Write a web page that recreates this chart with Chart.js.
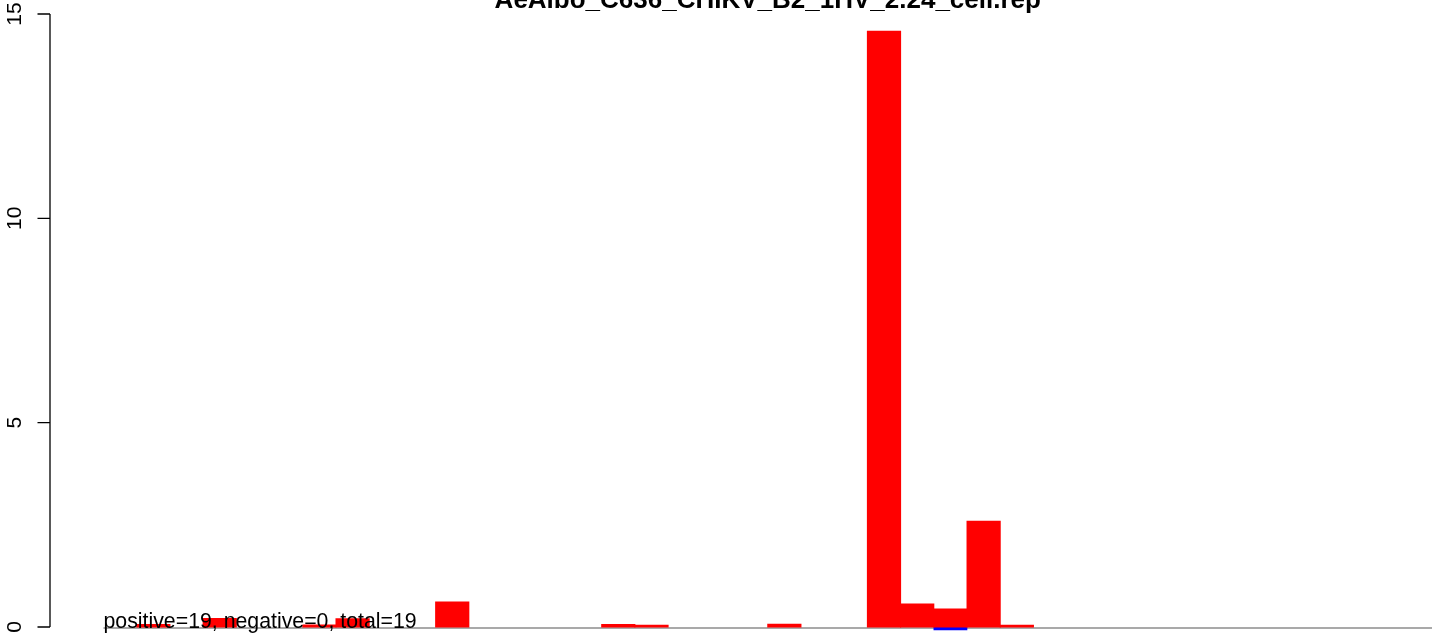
<!DOCTYPE html>
<html>
<head>
<meta charset="utf-8">
<title>AeAlbo_C636_CHIKV_B2_1HV_2.24_cell.rep</title>
<script src="https://cdn.jsdelivr.net/npm/chart.js@4/dist/chart.umd.min.js"></script>
<style>
	html, body { margin: 0; padding: 0; background: #fff; }
	#chart { display: block; }
</style>
</head>
<body>
<canvas id="chart" width="1444" height="634"></canvas>
<script>
// Chart text
const chartTitle = 'AeAlbo_C636_CHIKV_B2_1HV_2.24_cell.rep';
const summaryText = 'positive=19, negative=0, total=19';

// One slot per bar, no names on the x axis
const slots = ['1', '2', '3', '4', '5', '6', '7', '8', '9', '10',
	'11', '12', '13', '14', '15', '16', '17', '18', '19', '20',
	'21', '22', '23', '24', '25', '26', '27', '28', '29', '30',
	'31', '32', '33', '34', '35', '36', '37', '38', '39', '40'];

// Values
const positiveValues = [0, 0.06, 0, 0.21, 0, 0, 0.05, 0.2, 0, 0,
	0.61, 0, 0, 0, 0, 0.06, 0.04, 0, 0, 0,
	0.07, 0, 0, 14.58, 0.56, 0.44, 2.59, 0.04, 0, 0,
	0, 0, 0, 0, 0, 0, 0, 0, 0, 0];
const negativeValues = [0, 0, 0, 0, 0, 0, 0, 0, 0, 0,
	0, 0, 0, 0, 0, 0, 0, 0, 0, 0,
	0, 0, 0, 0, 0, -0.07, 0, 0, 0, 0,
	0, 0, 0, 0, 0, 0, 0, 0, 0, 0];

// Y axis ticks
const yTicks = [0, 5, 10, 15];

const font = '"Liberation Sans", Arial, Helvetica, sans-serif';

// empty slots draw nothing
const noZero = (values) => values.map((v) => (v === 0 ? null : v));

// Draws the R style parts: zero line, then title, left axis and the note
const rStyle = {
	id: 'rStyle',
	beforeDatasetsDraw(chart) {
		const ctx = chart.ctx;
		const y = chart.scales.y;
		const area = chart.chartArea;
		ctx.save();
		ctx.strokeStyle = '#8c8c8c';
		ctx.lineWidth = 1.5;
		ctx.beginPath();
		ctx.moveTo(area.left, y.getPixelForValue(0) + 1);
		ctx.lineTo(area.right, y.getPixelForValue(0) + 1);
		ctx.stroke();
		ctx.restore();
	},
	afterDatasetsDraw(chart) {
		const ctx = chart.ctx;
		const y = chart.scales.y;
		const area = chart.chartArea;
		ctx.save();

		// left axis
		const axisX = 50;
		ctx.strokeStyle = '#000';
		ctx.lineWidth = 1.3;
		ctx.beginPath();
		ctx.moveTo(axisX, y.getPixelForValue(yTicks[0]));
		ctx.lineTo(axisX, y.getPixelForValue(yTicks[yTicks.length - 1]));
		yTicks.forEach((t) => {
			const py = y.getPixelForValue(t);
			ctx.moveTo(axisX, py);
			ctx.lineTo(axisX - 12.5, py);
		});
		ctx.stroke();

		ctx.fillStyle = '#000';
		ctx.font = '21px ' + font;
		ctx.textAlign = 'center';
		ctx.textBaseline = 'alphabetic';
		yTicks.forEach((t) => {
			const py = y.getPixelForValue(t);
			ctx.save();
			ctx.translate(21, py);
			ctx.rotate(-Math.PI / 2);
			ctx.fillText(String(t), 0, 0);
			ctx.restore();
		});

		// title
		ctx.font = 'bold 26px ' + font;
		ctx.textAlign = 'center';
		ctx.fillText(chartTitle, (area.left + area.right) / 2, 8);

		// note at the bottom left
		ctx.font = '21.3px ' + font;
		ctx.textAlign = 'left';
		ctx.fillText(summaryText, area.left, y.getPixelForValue(0) + 1);

		ctx.restore();
	}
};

new Chart(document.getElementById('chart'), {
	type: 'bar',
	data: {
		labels: slots,
		datasets: [
			{
				label: 'positive',
				data: noZero(positiveValues),
				backgroundColor: '#ff0000',
				borderWidth: 0,
				inflateAmount: 0.5,
				barPercentage: 1,
				categoryPercentage: 1,
				clip: false
			},
			{
				label: 'negative',
				data: noZero(negativeValues),
				backgroundColor: '#0000ff',
				borderWidth: 0,
				inflateAmount: 0.3,
				barPercentage: 1,
				categoryPercentage: 1,
				clip: false
			}
		]
	},
	options: {
		responsive: false,
		animation: false,
		devicePixelRatio: 1,
		layout: {
			padding: { left: 103.5, right: 12, top: 14, bottom: 7 }
		},
		scales: {
			x: { display: false, stacked: true },
			y: { display: false, stacked: true, min: 0, max: 15 }
		},
		plugins: {
			legend: { display: false },
			tooltip: { enabled: false }
		}
	},
	plugins: [rStyle]
});
</script>
</body>
</html>
